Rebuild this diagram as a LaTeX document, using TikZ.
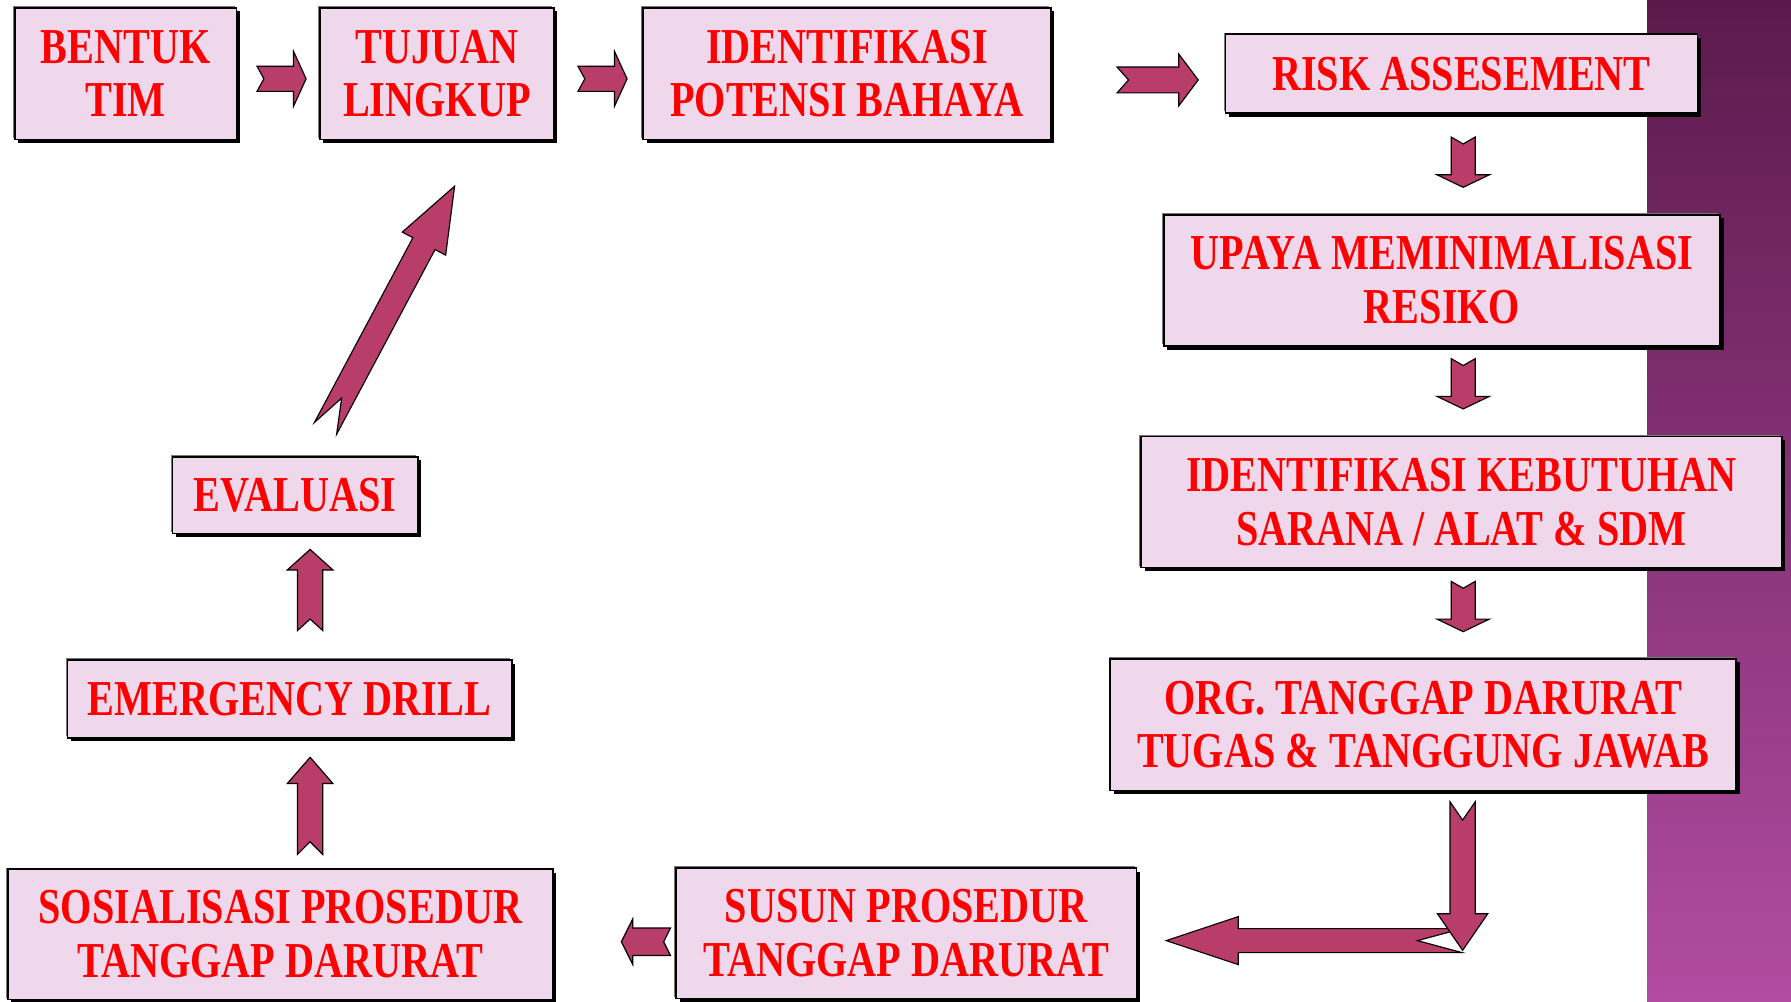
\documentclass[tikz,border=0pt]{standalone}
\usepackage{fontspec}
\newfontfamily\boxfont[FakeStretch=0.8]{Liberation Serif}
\usetikzlibrary{calc,shadows}
\definecolor{boxfill}{RGB}{240,216,236}
\definecolor{arrowfill}{RGB}{184,61,104}
\definecolor{shadowgray}{RGB}{120,120,120}
\definecolor{bandtop}{RGB}{92,26,76}
\definecolor{bandmid}{RGB}{140,54,124}
\definecolor{bandbot}{RGB}{178,76,162}
\newcommand{\blockarrow}[6]{%
  \coordinate (ba-h) at ($(#2)!#5!(#1)$);
  \coordinate (ba-n) at ($(#1)!#6!(#2)$);
  \draw[barrow] ($(#1)!#3!90:(#2)$) -- ($(ba-h)!#3!-90:(#1)$) -- ($(ba-h)!#4!-90:(#1)$)
    -- (#2) -- ($(ba-h)!#4!90:(#1)$) -- ($(ba-h)!#3!90:(#1)$) -- ($(#1)!#3!-90:(#2)$)
    -- (ba-n) -- cycle;
}
\begin{document}
\begin{tikzpicture}[x=1pt,y=-1pt,
  box/.style={draw=black, line width=1.4pt, fill=boxfill, text=red,
    font=\boxfont\bfseries\fontsize{44}{47}\selectfont, align=center, inner sep=0pt,
    general shadow={shadow xshift=-1.5pt, shadow yshift=1.5pt, fill=shadowgray},
    general shadow={shadow xshift=3pt, shadow yshift=-3pt, fill=black}},
  barrow/.style={fill=arrowfill, draw=black, line width=1pt, line join=miter}]
\useasboundingbox (0,0) rectangle (1568,877);
\fill[white] (0,0) rectangle (1568,877);
\shade[top color=bandtop, middle color=bandmid, bottom color=bandbot] (1442,0) rectangle (1568,877);

% boxes
\node[box, minimum width=194pt, minimum height=115pt] (bentuk) at (110,64.5) {BENTUK\\TIM};
\node[box, minimum width=205pt, minimum height=115pt] (tujuan) at (382.5,64.5) {TUJUAN\\LINGKUP};
\node[box, minimum width=357pt, minimum height=115pt] (ident) at (741.5,64.5) {IDENTIFIKASI\\POTENSI BAHAYA};
\node[box, minimum width=413pt, minimum height=69pt] (risk) at (1279.5,64.5) {RISK ASSESEMENT};
\node[box, minimum width=487pt, minimum height=115pt] (upaya) at (1262.5,245.5) {UPAYA MEMINIMALISASI\\RESIKO};
\node[box, minimum width=561pt, minimum height=115pt] (kebut) at (1279.5,439.5) {IDENTIFIKASI KEBUTUHAN\\SARANA / ALAT \& SDM};
\node[box, minimum width=548pt, minimum height=115pt] (org) at (1246,634.5) {ORG. TANGGAP DARURAT\\TUGAS \& TANGGUNG JAWAB};
\node[box, minimum width=403pt, minimum height=114pt] (susun) at (793.5,817) {SUSUN PROSEDUR\\TANGGAP DARURAT};
\node[box, minimum width=477pt, minimum height=114pt] (sosial) at (245.5,818) {SOSIALISASI PROSEDUR\\TANGGAP DARURAT};
\node[box, minimum width=389pt, minimum height=68pt] (drill) at (253.5,612) {EMERGENCY DRILL};
\node[box, minimum width=215pt, minimum height=67pt] (eval) at (258.5,433.5) {EVALUASI};

% arrow end points
\coordinate (a1t) at (225,69);   \coordinate (a1h) at (268,69);
\coordinate (a2t) at (506,69);   \coordinate (a2h) at (549,69);
\coordinate (a3t) at (978,70);   \coordinate (a3h) at (1049,70);
\coordinate (a4t) at (1281,120); \coordinate (a4h) at (1281,164);
\coordinate (a5t) at (1281,314); \coordinate (a5h) at (1281,358);
\coordinate (a6t) at (1281,509); \coordinate (a6h) at (1281,553);
\coordinate (a7t) at (1280.5,702); \coordinate (a7h) at (1280.5,832);
\coordinate (a8t) at (1280,823.5); \coordinate (a8h) at (1021,823.5);
\coordinate (a9t) at (587,824.5); \coordinate (a9h) at (544,824.5);
\coordinate (a10t) at (271.5,748); \coordinate (a10h) at (271.5,663);
\coordinate (a11t) at (271.5,552); \coordinate (a11h) at (271.5,481);
\coordinate (a12t) at (285,375); \coordinate (a12h) at (398,163);

\blockarrow{a1t}{a1h}{11pt}{24pt}{11pt}{6pt}
\blockarrow{a2t}{a2h}{11pt}{24pt}{11pt}{6pt}
\blockarrow{a3t}{a3h}{11.3pt}{22.7pt}{17pt}{10pt}
\blockarrow{a4t}{a4h}{10.5pt}{23pt}{11pt}{6pt}
\blockarrow{a5t}{a5h}{10.5pt}{23pt}{11pt}{6pt}
\blockarrow{a6t}{a6h}{10.5pt}{23pt}{11pt}{6pt}
\blockarrow{a8t}{a8h}{10.5pt}{21pt}{63pt}{39pt}
\blockarrow{a7t}{a7h}{11pt}{22pt}{32pt}{16pt}
\blockarrow{a9t}{a9h}{12pt}{20pt}{10pt}{6pt}
\blockarrow{a10t}{a10h}{11pt}{20pt}{23pt}{11pt}
\blockarrow{a11t}{a11h}{11pt}{20pt}{18pt}{10pt}
\blockarrow{a12t}{a12h}{11pt}{21.5pt}{57pt}{30pt}
\end{tikzpicture}
\end{document}
